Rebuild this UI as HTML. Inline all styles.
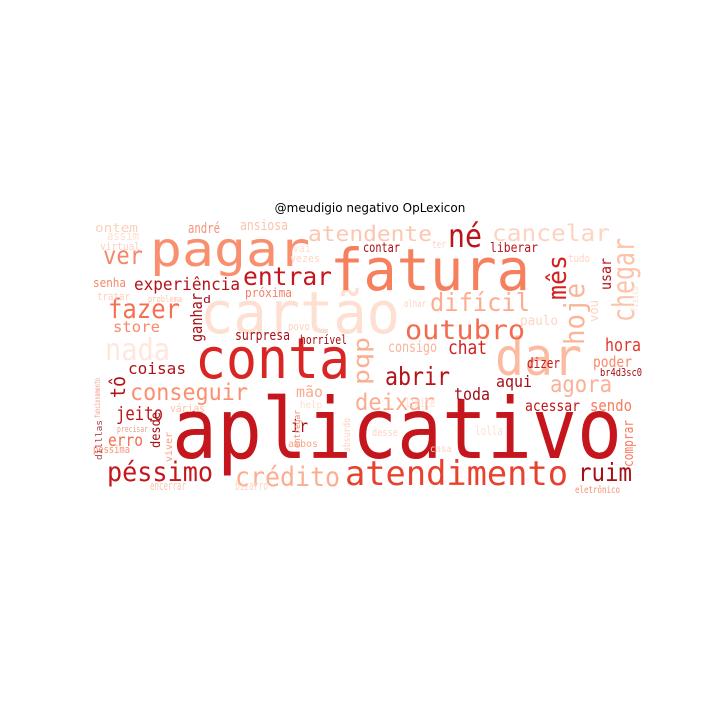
<!DOCTYPE html>
<html><head><meta charset="utf-8"><style>
html,body{margin:0;padding:0;background:#fff;}
svg{display:block;}
text{font-family:"DejaVu Sans Mono","Liberation Mono",monospace;}
</style></head><body>
<svg id="wc" width="720" height="720" viewBox="0 0 720 720" xmlns="http://www.w3.org/2000/svg">
<rect width="720" height="720" fill="#fff"/>
<text x="370" y="212" text-anchor="middle" style="font-family:'DejaVu Sans','Liberation Sans',sans-serif;font-size:12px" fill="#000">@meudigio negativo OpLexicon</text>
<g id="words"></g>
</svg>
<script>
const words = ["cartão","nada","aplicativo","fatura","pagar","conta","dar","atendimento","crédito","péssimo","ruim","abrir","deixar","agora","entrar","né","atendente","cancelar","difícil","outubro","ver","fazer","experiência","conseguir","coisas","jeito","erro","chat","consigo","aqui","toda","acessar","sendo","hora","poder","dizer","mês","hoje","chegar","usar","tô","pqp","ganhar","desde","comprar","ontem","andré","ansiosa","senha","store","surpresa","próxima","horrível","mão","ir","liberar","contar","br4d3sc0","eletrônico","paulo","várias","povo","vezes","tratar","virtual","problema","assim","d","vai","ambos","péssima","precisar","help","desse","tudo","ter","olhar","encerrar","bizarro","lolla","casa","limite","vou","físico","entregar","absurdo","viver","dilllas","funcionamento"];
const xs = [200,105,172,330,150,195,495,345,235,107,578,385,355,550,243,448,308,492,430,405,103,108,134,130,128,116,108,448,388,496,454,525,590,605,593,527,566,584,634,611,125,369,202,160,633,95,188,240,93,113,235,245,300,296,291,490,363,600,575,520,170,288,290,97,100,148,107,203,293,288,93,117,300,372,568,432,404,150,235,475,430,405,598,638,300,350,172,102,100];
const ys = [333,360,458,290,266,378,375,485,486,481,481,385,410,392,285,247,241,241,311,339,264,318,290,400,374,420,446,354,352,387,400,411,411,351,367,368,300,345,322,290,398,385,342,448,467,232,233,230,287,332,340,297,344,397,432,252,252,376,493,325,412,330,262,300,250,302,240,303,252,447,453,432,408,436,262,248,307,490,490,435,452,407,322,312,448,452,462,460,418];
const sizes = [58,30,84,58,48,56,52,34,27,27,25,25,23,23,25,32,21,23,25,27,25,27,17,23,16,19,17,19,15,16,17,15,16,18,15,14,26,28,30,15,20,22,16,13,14,12,14,14,12,15,14,12,12,15,17,13,13,11,10,13,11,11,11,11,11,9,12,11,11,10,11,9,10,11,11,11,10,12,12,12,10,13,12,10,9,10,10,9,8];
const widths = [200,65,450,200,160,155,87,223,105,106,54,65,80,62,89,34,124,118,100,120,40,72,106,118,58,47,35,39,49,36,36,55,42,36,39,33,45,62,84,32,22,48,49,36,47,43,32,48,33,47,55,47,47,27,17,48,37,42,45,38,35,22,30,33,40,34,32,8,18,30,37,31,22,26,22,14,22,36,33,28,22,30,22,26,38,34,30,40,40];
const colors = ["#fee0d2","#fee8de","#c4161c","#f6805d","#f8906f","#d92523","#fcbba1","#e8422f","#fcae91","#c4161c","#a50f15","#b31218","#fcab8f","#fcb096","#c4161c","#bc141a","#fcc6b0","#fdd3c1","#fcac8f","#f26b4f","#f5866a","#f6704f","#b21218","#fc8f6f","#b01217","#bd151b","#f26c4e","#d0201f","#fcb49a","#a50f15","#9c0c17","#c0151b","#fb7a5a","#e3352a","#fc8a6a","#c4161c","#d42020","#fcb499","#fdc3aa","#b81319","#b31218","#fcae91","#a50f15","#a50f15","#fb7c5c","#fdd0bc","#f49476","#fcc4ad","#f7886a","#fb8a6a","#a8101a","#f5806b","#a50f15","#fcaa8d","#a50f15","#b71419","#a50f15","#a50f15","#fc8f70","#fdd5c4","#fcc2aa","#fdd0bc","#fdd5c4","#fdd0bc","#fdd0bc","#fdc6b0","#fee0d2","#a50f15","#fee0d2","#fca486","#fb9070","#e8a090","#fee0d2","#fdd5c4","#fdd5c4","#fdd5c4","#fdd0bc","#fdc6b0","#fdd5c4","#fee0d2","#fdd5c4","#fee0d2","#fdd5c4","#fee0d2","#f08a70","#fdd0bc","#fb9a7a","#b04050","#f0a090"];
const rots = [0,0,0,0,0,0,0,0,0,0,0,0,0,0,0,0,0,0,0,0,0,0,0,0,0,0,0,0,0,0,0,0,0,0,0,0,1,1,1,1,1,1,1,1,1,0,0,0,0,0,0,0,0,0,0,0,0,0,0,0,0,0,0,0,0,0,0,0,0,0,0,0,0,0,0,0,0,0,0,0,0,0,1,1,1,1,1,1,1];
const g = document.getElementById('words');
const NS = 'http://www.w3.org/2000/svg';
for (let i = 0; i < words.length; i++) {
  const t = document.createElementNS(NS, 'text');
  
  
  t.setAttribute('font-size', sizes[i]);
  t.setAttribute('fill', colors[i]);
  t.setAttribute('textLength', widths[i]);
  t.setAttribute('lengthAdjust', 'spacingAndGlyphs');
  if (rots[i]) {
    t.setAttribute('x', 0);
    t.setAttribute('y', 0);
    t.setAttribute('transform', 'translate(' + xs[i] + ',' + ys[i] + ') rotate(-90)');
  } else {
    t.setAttribute('x', xs[i]);
    t.setAttribute('y', ys[i]);
  }
  t.textContent = words[i];
  g.appendChild(t);
}
</script>
</body></html>
